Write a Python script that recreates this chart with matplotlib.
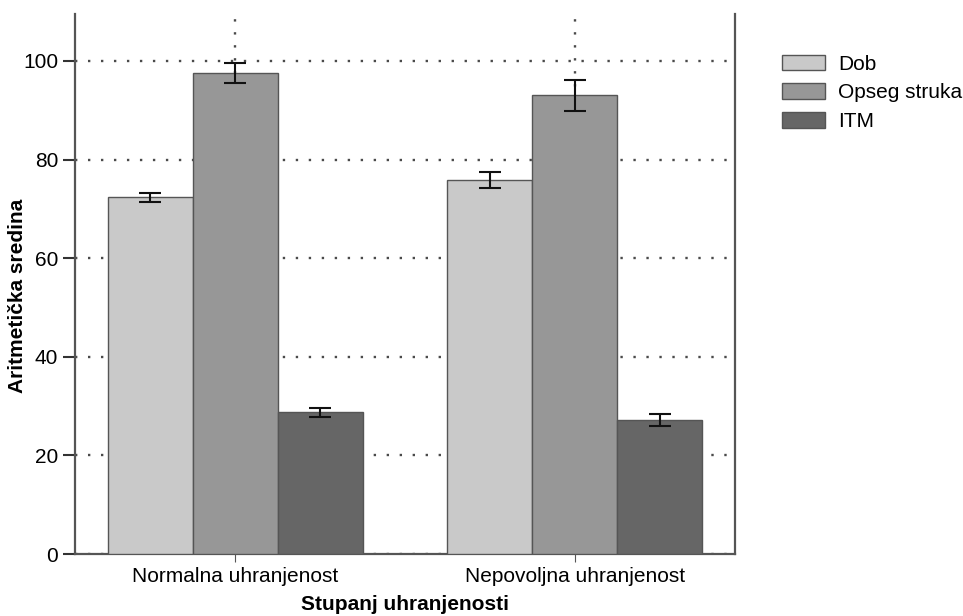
import matplotlib
matplotlib.use("Agg")
import matplotlib.pyplot as plt
import numpy as np

plt.rcParams["font.family"] = ["Liberation Sans", "DejaVu Sans"]

groups = ["Normalna uhranjenost", "Nepovoljna uhranjenost"]
series = ["Dob", "Opseg struka", "ITM"]
means = {
    "Dob": [72.3, 75.8],
    "Opseg struka": [97.6, 93.0],
    "ITM": [28.7, 27.2],
}
errors = {
    "Dob": [1.0, 1.6],
    "Opseg struka": [2.0, 3.2],
    "ITM": [0.85, 1.15],
}
colors = {"Dob": "#c9c9c9", "Opseg struka": "#979797", "ITM": "#666666"}
yticks = [0, 20, 40, 60, 80, 100]

fig = plt.figure(figsize=(9.63, 6.16), dpi=100)
ax = fig.add_axes([0.0779, 0.1006, 0.6853, 0.8766])

x = np.arange(len(groups))
width = 0.25
for i, name in enumerate(series):
    pos = x + (i - 1) * width
    ax.bar(pos, means[name], width, color=colors[name], edgecolor="#555555",
           linewidth=1.0, label=name, zorder=3)
    ax.errorbar(pos, means[name], yerr=errors[name], fmt="none", ecolor="#111111",
                elinewidth=1.5, capsize=8, capthick=1.5, zorder=4)

ax.set_xlim(-0.472, 1.472)
ax.set_ylim(0, 109.5)
ax.set_xticks(x)
ax.set_xticklabels(groups, fontsize=15)
ax.set_yticks(yticks)
ax.tick_params(axis="y", labelsize=15, length=9, width=1.5, color="#333333",
               direction="out", pad=3)
ax.tick_params(axis="x", length=6, width=0.8, color="#555555", direction="out", pad=3)

ax.grid(True, linestyle=(0, (1, 4.5)), linewidth=1.7, color="#4a4a4a", zorder=0)
ax.set_axisbelow(True)

for side in ["left", "bottom", "right"]:
    ax.spines[side].set_color("#555555")
    ax.spines[side].set_linewidth(1.6)
ax.spines["top"].set_visible(False)

ax.set_ylabel("Aritmetička sredina", fontsize=15, fontweight="bold")
ax.yaxis.set_label_coords(-0.073, 0.478)
ax.set_xlabel("Stupanj uhranjenosti", fontsize=15, fontweight="bold")
ax.xaxis.set_label_coords(0.5, -0.076)

fig.legend(loc="upper left", bbox_to_anchor=(0.803, 0.925), frameon=False, fontsize=15,
           handlelength=2.1, handleheight=0.8, labelspacing=0.45, handletextpad=0.6,
           borderaxespad=0)

fig.savefig("out.png", dpi=100, facecolor="white")
